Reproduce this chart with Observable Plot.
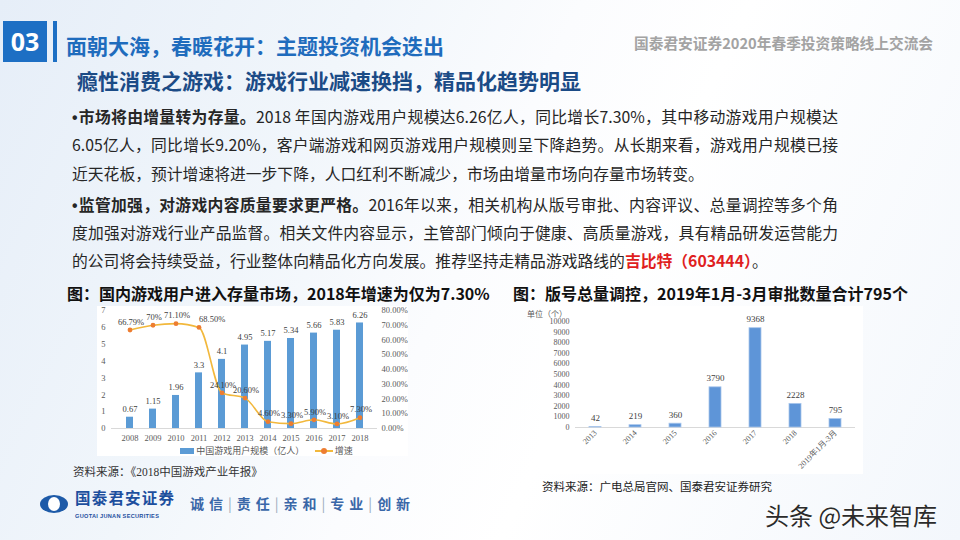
<!DOCTYPE html>
<html><head><meta charset="utf-8">
<script src="https://cdn.jsdelivr.net/npm/d3@7"></script>
<script src="https://cdn.jsdelivr.net/npm/@observablehq/plot@0.6"></script>
<style>
html,body{margin:0;padding:0;}
body{width:960px;height:540px;position:relative;overflow:hidden;font-family:"Noto Sans CJK SC","Noto Sans",sans-serif;
background:linear-gradient(115deg,#e6eef8 0%,#f1f6fb 30%,#fbfcfe 48%,#ffffff 62%,#f3f7fc 100%);}
.abs{position:absolute;white-space:nowrap;}
.line{position:absolute;left:72px;width:766px;font-size:15.8px;line-height:20px;color:#262626;text-align:justify;text-align-last:justify;white-space:nowrap;}
.line.last{text-align-last:left;}
.bul{font-family:"Liberation Sans",sans-serif;font-weight:bold;margin-right:1px;}
.panel{position:absolute;background:#fff;}
.leg{font-family:"Liberation Serif","Noto Sans CJK SC",serif;font-size:9px;color:#595959;}
</style></head>
<body>
<div class="abs" style="left:3px;top:21px;width:44px;height:41px;background:#1d6fc4;color:#fff;font:bold 25px/41px 'Open Sans','Noto Sans',sans-serif;text-align:center;">03</div>
<div class="abs" style="left:53px;top:21px;width:4px;height:41px;background:#1d6fc4;"></div>
<div class="abs" style="left:66px;top:31px;font-weight:bold;font-size:21px;line-height:28px;color:#1f6cbd;">面朝大海，春暖花开：主题投资机会迭出</div>
<div class="abs" style="left:634px;top:34px;font-weight:bold;font-size:14.7px;line-height:18px;color:#a3a3a3;">国泰君安证券2020年春季投资策略线上交流会</div>
<div class="abs" style="left:77px;top:66px;font-weight:bold;font-size:21px;line-height:28px;color:#1b4b86;">瘾性消费之游戏：游戏行业减速换挡，精品化趋势明显</div>

<div class="line" style="top:107px;"><span class="bul">•</span><b>市场将由增量转为存量。</b>2018 年国内游戏用户规模达6.26亿人，同比增长7.30%，其中移动游戏用户规模达</div>
<div class="line" style="top:135px;">6.05亿人，同比增长9.20%，客户端游戏和网页游戏用户规模则呈下降趋势。从长期来看，游戏用户规模已接</div>
<div class="line last" style="top:164px;">近天花板，预计增速将进一步下降，人口红利不断减少，市场由增量市场向存量市场转变。</div>
<div class="line" style="top:195px;"><span class="bul">•</span><b>监管加强，对游戏内容质量要求更严格。</b>2016年以来，相关机构从版号审批、内容评议、总量调控等多个角</div>
<div class="line" style="top:223px;">度加强对游戏行业产品监督。相关文件内容显示，主管部门倾向于健康、高质量游戏，具有精品研发运营能力</div>
<div class="line last" style="top:251px;">的公司将会持续受益，行业整体向精品化方向发展。推荐坚持走精品游戏路线的<b style="color:#e01f1f;">吉比特（603444）</b>。</div>

<div class="abs" style="left:67px;top:283px;font-weight:bold;font-size:16px;line-height:20px;color:#111;">图：国内游戏用户进入存量市场，2018年增速为仅为7.30%</div>
<div class="abs" style="left:513px;top:283px;font-weight:bold;font-size:16px;line-height:20px;color:#111;">图：版号总量调控，2019年1月-3月审批数量合计795个</div>

<div class="panel" style="left:97px;top:306px;width:311px;height:150px;"></div>
<div class="panel" style="left:540px;top:306px;width:323px;height:168px;"></div>

<div id="c1" class="abs" style="left:90px;top:300px;"></div>
<div id="c2" class="abs" style="left:90px;top:300px;"></div>
<div id="c3" class="abs" style="left:520px;top:300px;"></div>

<div class="abs leg" style="left:180px;top:444px;line-height:12px;">
<span style="display:inline-block;width:14px;height:6px;background:#5b9bd5;vertical-align:middle;"></span>
<span style="vertical-align:middle;">中国游戏用户规模（亿人）</span>
<span style="display:inline-block;width:18px;height:2px;background:#f2b83c;vertical-align:middle;margin-left:8px;position:relative;"><span style="position:absolute;left:6px;top:-2px;width:6px;height:6px;border-radius:3px;background:#ed7d31;"></span></span>
<span style="vertical-align:middle;">增速</span>
</div>
<div class="abs leg" style="left:527px;top:308px;font-size:8px;">单位（个）</div>

<div class="abs" style="left:73px;top:463px;font-family:'Liberation Serif','Noto Sans CJK SC',serif;font-size:11.5px;color:#333;">资料来源：《2018中国游戏产业年报》</div>
<div class="abs" style="left:542px;top:478px;font-size:11.5px;color:#222;">资料来源：广电总局官网、国泰君安证券研究</div>

<div class="abs" style="left:40px;top:495px;width:28px;height:18px;border-radius:50%;background:#1d5aa8;"></div>
<div class="abs" style="left:48px;top:497px;width:12px;height:14px;border-radius:50%;background:#fff;"></div>
<div class="abs" style="left:75px;top:489px;font-weight:bold;font-size:15.5px;line-height:16px;color:#1d4f9e;letter-spacing:1.2px;">国泰君安证券</div>
<div class="abs" style="left:75px;top:513px;font-size:5.6px;line-height:6px;color:#1d4f9e;font-family:'Liberation Sans',sans-serif;font-weight:bold;letter-spacing:0.3px;">GUOTAI JUNAN SECURITIES</div>
<div class="abs" style="left:190px;top:494px;font-weight:bold;font-size:14px;line-height:18px;color:#3a67a8;letter-spacing:5px;">诚信<span style="color:#9ab;font-weight:normal;">|</span>责任<span style="color:#9ab;font-weight:normal;">|</span>亲和<span style="color:#9ab;font-weight:normal;">|</span>专业<span style="color:#9ab;font-weight:normal;">|</span>创新</div>
<div class="abs" style="left:765px;top:501px;font-size:24px;line-height:28px;color:#2b2b2b;text-shadow:0 0 2px #fff,0 0 2px #fff;">头条 @未来智库</div>

<script>
// ---- data ----
const years = ["2008","2009","2010","2011","2012","2013","2014","2015","2016","2017","2018"];
const users = [0.67, 1.15, 1.96, 3.3, 4.1, 4.95, 5.17, 5.34, 5.66, 5.83, 6.26];
const userLabels = ["0.67","1.15","1.96","3.3","4.1","4.95","5.17","5.34","5.66","5.83","6.26"];
const growth = [66.79, 70, 71.10, 68.50, 24.10, 20.60, 4.60, 3.30, 5.90, 3.10, 7.30];
const growthLabels = ["66.79%","70%","71.10%","68.50%","24.10%","20.60%","4.60%","3.30%","5.90%","3.10%","7.30%"];
const leftTicks = [0,1,2,3,4,5,6,7];
const rightTicks = [0,10,20,30,40,50,60,70,80];

const periods = ["2013","2014","2015","2016","2017","2018","2019年1月-3月"];
const approvals = [42, 219, 360, 3790, 9368, 2228, 795];
const approvalTicks = [0,1000,2000,3000,4000,5000,6000,7000,8000,9000,10000];

// ---- tables ----
const t1 = years.map((y,i)=>({year:y, users:users[i], ul:userLabels[i], growth:growth[i], gl:growthLabels[i],
  cliff: i < growth.length-1 && growth[i] - growth[i+1] > 20}));
const t2 = periods.map((p,i)=>({period:p, value:approvals[i]}));

const serif = "'Liberation Serif','Noto Sans CJK SC',serif";
const dims = {width:330, height:150, marginLeft:21, marginRight:43, marginTop:10, marginBottom:22};
const xBand = {type:"band", domain:years, paddingInner:0.7, paddingOuter:0.5, label:null, tickSize:0, tickPadding:6};
const st = {background:"transparent", fontFamily:serif, fontSize:"8.5px", color:"#595959"};

const p1 = Plot.plot({
  ...dims, style: st,
  x: xBand,
  y: {domain:[0,7], ticks:leftTicks, tickSize:0, tickPadding:6, label:null, tickFormat:d3.format("d")},
  marks:[
    Plot.ruleY([0], {stroke:"#d9d9d9"}),
    Plot.barY(t1, {x:"year", y:"users", fill:"#5b9bd5"}),
    Plot.text(t1, {x:"year", y:"users", text:"ul", dy:-8, fill:"#404040", fontSize:8.5})
  ]
});
document.getElementById("c1").appendChild(p1);

const p2 = Plot.plot({
  ...dims, style: st,
  x: {...xBand, axis:null},
  y: {domain:[0,80], axis:"right", ticks:rightTicks, tickSize:0, tickPadding:4, label:null, tickFormat:d=>d.toFixed(2)+"%"},
  marks:[
    Plot.line(t1, {x:"year", y:"growth", stroke:"#f2b83c", strokeWidth:1.6, curve:"monotone-x"}),
    Plot.dot(t1, {x:"year", y:"growth", r:2.4, fill:"#ed7d31"}),
    Plot.text(t1, {filter:d=>!d.cliff, x:"year", y:"growth", text:"gl", dy:-8, dx:1, fill:"#404040", fontSize:8.5}),
    Plot.text(t1, {filter:d=>d.cliff, x:"year", y:"growth", text:"gl", dy:-8, dx:0, textAnchor:"start", fill:"#404040", fontSize:8.5})
  ]
});
document.getElementById("c2").appendChild(p2);

const p3 = Plot.plot({
  width:350, height:185, marginLeft:55, marginRight:15, marginTop:21, marginBottom:58,
  style:{background:"transparent", fontFamily:serif, fontSize:"8px", color:"#595959"},
  x: {type:"band", domain:periods, paddingInner:0.7, paddingOuter:0.35, label:null, tickSize:0, tickPadding:4, tickRotate:-45},
  y: {domain:[0,10000], ticks:approvalTicks, tickSize:0, tickPadding:6, label:null, tickFormat:d3.format("d")},
  marks:[
    Plot.ruleY([0], {stroke:"#d9d9d9"}),
    Plot.barY(t2, {x:"period", y:"value", fill:"#5e95d8", stroke:"#a9c6ec", strokeWidth:0.8}),
    Plot.text(t2, {x:"period", y:"value", text:d=>String(d.value), dy:-9, fill:"#404040", fontSize:9})
  ]
});
document.getElementById("c3").appendChild(p3);
</script>
</body></html>
